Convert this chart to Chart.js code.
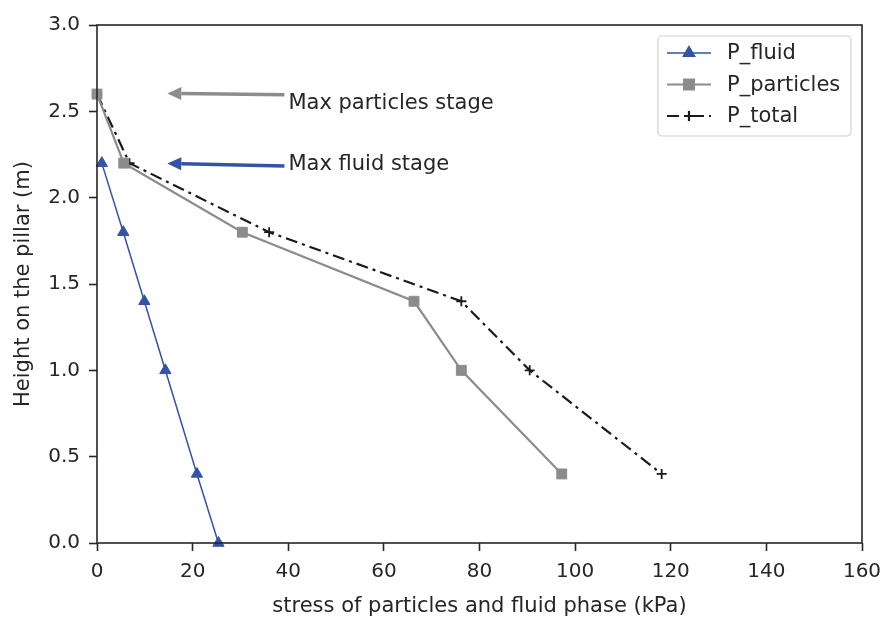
<!DOCTYPE html>
<html>
<head>
<meta charset="utf-8">
<script src="https://cdn.jsdelivr.net/npm/chart.js@4.4.1/dist/chart.umd.min.js"></script>
<style>
  body { margin: 0; background: #fff; }
  #wrap { width: 888px; height: 630px; }
</style>
</head>
<body>
<div id="wrap"><canvas id="chart" width="888" height="630"></canvas></div>
<script>
// heights along the pillar (m)
const heightsFluid = [2.2, 1.8, 1.4, 1.0, 0.4, 0.0];
const heightsParticles = [2.6, 2.2, 1.8, 1.4, 1.0, 0.4];
const heightsTotal = [2.6, 2.2, 1.8, 1.4, 1.0, 0.4];

// stresses (kPa)
const pFluid = [1.0, 5.5, 9.9, 14.3, 20.9, 25.4];
const pParticles = [0.0, 5.6, 30.4, 66.3, 76.2, 97.2];
const pTotal = [0.0, 6.8, 36.0, 76.2, 90.5, 118.1];

const xTicks = [0, 20, 40, 60, 80, 100, 120, 140, 160];
const yTicks = [0.0, 0.5, 1.0, 1.5, 2.0, 2.5, 3.0];

// arrow annotations (data coords)
const notes = [
    { text: "Max particles stage", tipX: 14.7, tailX: 39.2, tipY: 2.604, tailY: 2.596, textY: 2.547, color: "#8c8c8c" },
    { text: "Max fluid stage", tipX: 14.7, tailX: 39.2, tipY: 2.198, tailY: 2.183, textY: 2.193, color: "#3352a8" }
];

const FONT = "'DejaVu Sans', sans-serif";
const INK = "#262626";

function toPoints(xs, ys) {
    return xs.map((x, i) => ({ x: x, y: ys[i] }));
}

// Function to draw frame, legend box and arrows
const extras = {
    id: "extras",
    afterDatasetsDraw(chart) {
        const ctx = chart.ctx;
        const a = chart.chartArea;
        const xs = chart.scales.x, ys = chart.scales.y;
        ctx.save();

        // arrows + labels
        notes.forEach(n => {
            const x0 = xs.getPixelForValue(n.tailX), y0 = ys.getPixelForValue(n.tailY);
            const x1 = xs.getPixelForValue(n.tipX), y1 = ys.getPixelForValue(n.tipY);
            const ang = Math.atan2(y1 - y0, x1 - x0);
            const hl = 14, hw = 6.5;
            const bx = x1 - hl * Math.cos(ang), by = y1 - hl * Math.sin(ang);
            ctx.strokeStyle = n.color;
            ctx.fillStyle = n.color;
            ctx.lineWidth = 3.5;
            ctx.beginPath();
            ctx.moveTo(x0, y0);
            ctx.lineTo(bx, by);
            ctx.stroke();
            ctx.beginPath();
            ctx.moveTo(x1, y1);
            ctx.lineTo(bx - hw * Math.sin(ang), by + hw * Math.cos(ang));
            ctx.lineTo(bx + hw * Math.sin(ang), by - hw * Math.cos(ang));
            ctx.closePath();
            ctx.fill();
            ctx.fillStyle = INK;
            ctx.font = "21px " + FONT;
            ctx.textBaseline = "middle";
            ctx.textAlign = "left";
            ctx.fillText(n.text, x0 + 4, ys.getPixelForValue(n.textY));
        });

        // legend
        const lx = 658, ly = 36, lw = 193, lh = 100;
        ctx.fillStyle = "rgba(255,255,255,0.85)";
        ctx.strokeStyle = "#d0d0d0";
        ctx.lineWidth = 1.2;
        ctx.beginPath();
        ctx.roundRect(lx, ly, lw, lh, 4);
        ctx.fill();
        ctx.stroke();
        chart.data.datasets.forEach((ds, i) => {
            const ry = ly + 17 + i * 31.5;
            ctx.strokeStyle = ds.borderColor;
            ctx.lineWidth = ds.borderWidth;
            ctx.setLineDash(ds.borderDash || []);
            ctx.beginPath();
            ctx.moveTo(lx + 9, ry);
            ctx.lineTo(lx + 53, ry);
            ctx.stroke();
            ctx.setLineDash([]);
            ctx.fillStyle = ds.pointBackgroundColor;
            ctx.strokeStyle = ds.pointBorderColor;
            Chart.helpers.drawPoint(ctx, {
                pointStyle: ds.pointStyle,
                radius: ds.pointRadius,
                borderWidth: ds.pointBorderWidth,
                rotation: 0
            }, lx + 31, ry);
            ctx.fillStyle = INK;
            ctx.font = "21px " + FONT;
            ctx.textBaseline = "middle";
            ctx.textAlign = "left";
            ctx.fillText(ds.label, lx + 69, ry + 1);
        });

        // frame
        ctx.strokeStyle = INK;
        ctx.lineWidth = 1.6;
        ctx.strokeRect(a.left, a.top, a.right - a.left, a.bottom - a.top);
        ctx.restore();
    }
};

new Chart(document.getElementById("chart").getContext("2d"), {
    type: "scatter",
    data: {
        datasets: [
            {
                label: "P_fluid",
                data: toPoints(pFluid, heightsFluid),
                showLine: true,
                borderColor: "#3352a8",
                backgroundColor: "#3352a8",
                pointBackgroundColor: "#3352a8",
                pointBorderColor: "#3352a8",
                borderWidth: 1.5,
                pointStyle: "triangle",
                pointRadius: 6.5,
                pointBorderWidth: 1,
                clip: false
            },
            {
                label: "P_particles",
                data: toPoints(pParticles, heightsParticles),
                showLine: true,
                borderColor: "#8c8c8c",
                backgroundColor: "#8c8c8c",
                pointBackgroundColor: "#8c8c8c",
                pointBorderColor: "#8c8c8c",
                borderWidth: 2.2,
                pointStyle: "rect",
                pointRadius: 7,
                pointBorderWidth: 1,
                clip: false
            },
            {
                label: "P_total",
                data: toPoints(pTotal, heightsTotal),
                showLine: true,
                borderColor: "#1a1a1a",
                backgroundColor: "#1a1a1a",
                pointBackgroundColor: "#1a1a1a",
                pointBorderColor: "#1a1a1a",
                borderWidth: 2.2,
                borderDash: [12, 5, 3, 5],
                pointStyle: "cross",
                pointRadius: 5,
                pointBorderWidth: 1.8,
                clip: false
            }
        ]
    },
    options: {
        responsive: false,
        animation: false,
        layout: { padding: { top: 25, right: 26, left: 0, bottom: 0 } },
        plugins: {
            legend: { display: false },
            tooltip: { enabled: false }
        },
        scales: {
            x: {
                type: "linear",
                min: 0,
                max: 160,
                afterBuildTicks: s => { s.ticks = xTicks.map(v => ({ value: v })); },
                afterFit: s => { s.height = 87; s.paddingLeft = 0; s.paddingRight = 0; },
                grid: { drawOnChartArea: false, tickLength: 8, color: INK, tickWidth: 1.6 },
                border: { display: false },
                ticks: { color: INK, font: { family: FONT, size: 20 }, padding: 9, maxRotation: 0 },
                title: {
                    display: true,
                    text: "stress of particles and fluid phase (kPa)",
                    color: INK,
                    font: { family: FONT, size: 21 },
                    padding: { top: 0, bottom: 11 }
                }
            },
            y: {
                type: "linear",
                min: 0,
                max: 3,
                afterBuildTicks: s => { s.ticks = yTicks.map(v => ({ value: v })); },
                afterFit: s => { s.width = 97; },
                grid: { drawOnChartArea: false, tickLength: 8, color: INK, tickWidth: 1.6 },
                border: { display: false },
                ticks: {
                    color: INK,
                    font: { family: FONT, size: 20 },
                    padding: 9,
                    callback: v => v.toFixed(1)
                },
                title: {
                    display: true,
                    text: "Height on the pillar (m)",
                    color: INK,
                    font: { family: FONT, size: 21 },
                    padding: { top: 11, bottom: 0 }
                }
            }
        }
    },
    plugins: [extras]
});
</script>
</body>
</html>
